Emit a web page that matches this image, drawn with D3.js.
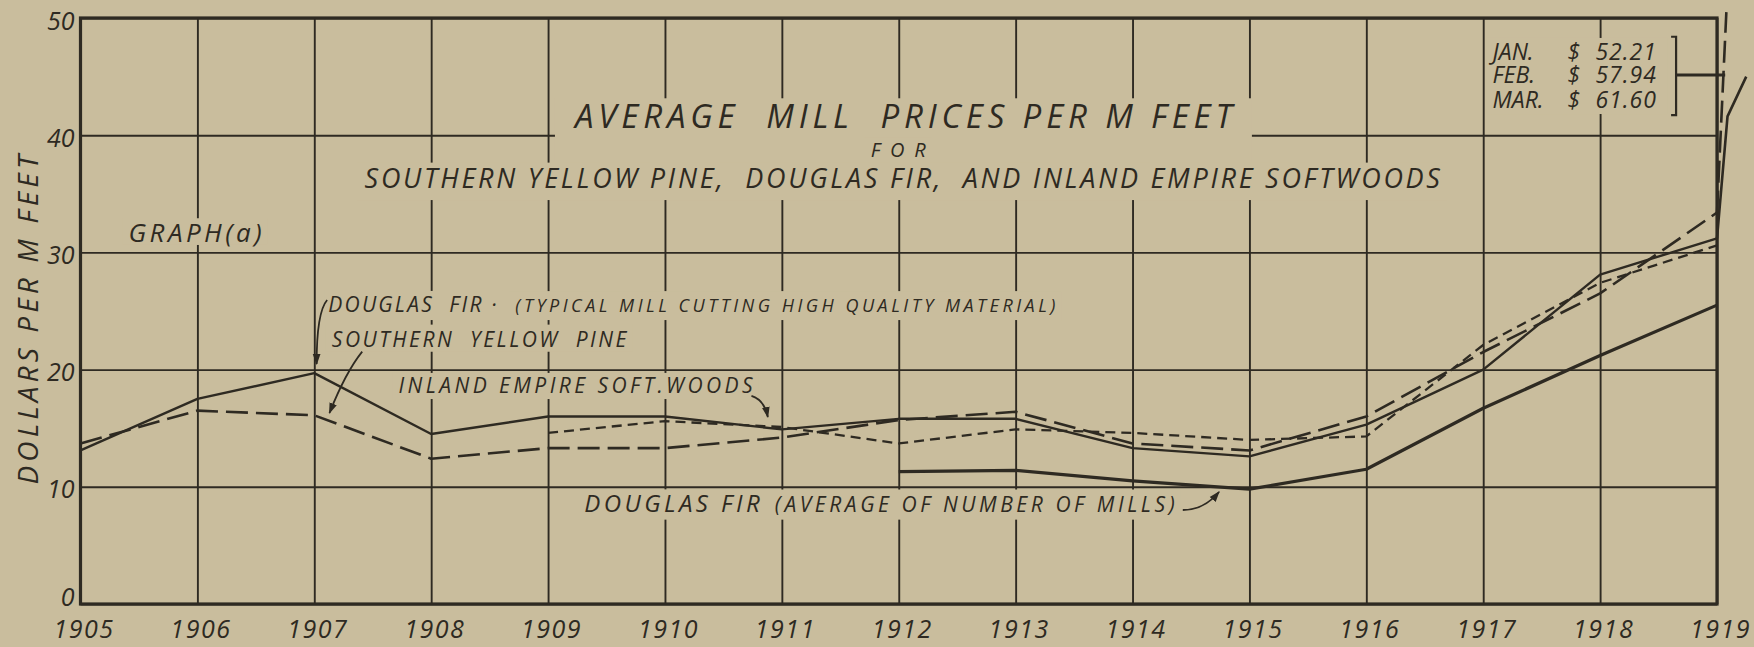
<!DOCTYPE html>
<html>
<head>
<meta charset="utf-8">
<script src="https://cdn.jsdelivr.net/npm/d3@7"></script>
<style>
  html, body { margin: 0; padding: 0; background: #c9bd9d; }
  svg { display: block; }
  text {
    font-family: 'Open Sans', 'Liberation Sans', 'DejaVu Sans', sans-serif;
    font-style: italic;
    font-weight: 400;
    fill: #2e2a22;
    white-space: pre;
  }
</style>
</head>
<body>
<div id="chart"></div>
<script>
// values, dollars per M feet
const years = [1905, 1906, 1907, 1908, 1909, 1910, 1911, 1912, 1913, 1914, 1915, 1916, 1917, 1918, 1919];
const yTicks = [0, 10, 20, 30, 40, 50];

const firTypical   = [13.1, 17.5, 19.7, 14.5, 16.0, 16.0, 14.9, 15.8, 15.8, 13.3, 12.6, 15.3, 20.0, 28.1, 31.2];
const yellowPine   = [13.7, 16.5, 16.1, 12.4, 13.3, 13.3, 14.2, 15.7, 16.4, 13.7, 13.1, 16.0, 21.5, 26.5, 33.4];
const inlandEmpire = [null, null, null, null, 14.6, 15.6, 15.1, 13.7, 14.9, 14.6, 14.0, 14.3, 22.1, 27.4, 30.6];
const firAverage   = [null, null, null, null, null, null, null, 11.3, 11.4, 10.5, 9.8, 11.5, 16.7, 21.2, 25.5];

// early 1919 run-off past the frame, [year, dollars]
const firTypicalJump = [[1919, 31.2], [1919.09, 41.6], [1919.25, 45.0]];
const yellowPineJump = [[1919, 33.4], [1919.08, 50.5]];

const months = ['JAN.', 'FEB.', 'MAR.'];
const monthPrices = ['52.21', '57.94', '61.60'];

const W = 1754, H = 647;
const INK = '#2e2a22', PAPER = '#c9bd9d';

const x = d3.scaleLinear().domain([1905, 1919]).range([80.5, 1717]);
const y = d3.scaleLinear().domain([0, 50]).range([604, 18]);

const svg = d3.select('#chart').append('svg')
    .attr('width', W)
    .attr('height', H);

svg.append('rect').attr('width', W).attr('height', H).attr('fill', PAPER);

const defs = svg.append('defs');
defs.append('marker')
    .attr('id', 'arrow')
    .attr('viewBox', '0 -5 10 10')
    .attr('refX', 9).attr('refY', 0)
    .attr('markerWidth', 11).attr('markerHeight', 11)
    .attr('markerUnits', 'userSpaceOnUse')
    .attr('orient', 'auto')
  .append('path')
    .attr('d', 'M0,-3.5L10,0L0,3.5Z')
    .attr('fill', INK);

// grid
const grid = svg.append('g');
grid.append('g')
    .attr('transform', `translate(0,${y(0)})`)
    .call(d3.axisBottom(x).tickValues(years).tickSize(-(y(0) - y(50))).tickFormat(''))
    .call(g => g.select('.domain').remove())
    .call(g => g.selectAll('line').attr('stroke', INK).attr('stroke-width', 1.9));
grid.append('g')
    .attr('transform', `translate(${x(1905)},0)`)
    .call(d3.axisLeft(y).tickValues(yTicks).tickSize(-(x(1919) - x(1905))).tickFormat(''))
    .call(g => g.select('.domain').remove())
    .call(g => g.selectAll('line').attr('stroke', INK).attr('stroke-width', 1.9));

grid.append('rect')
    .attr('x', x(1905)).attr('y', y(50))
    .attr('width', x(1919) - x(1905)).attr('height', y(0) - y(50))
    .attr('fill', 'none').attr('stroke', INK).attr('stroke-width', 3.2);

const bgLayer = svg.append('g');
const lineLayer = svg.append('g');
const textLayer = svg.append('g');

// tick labels
svg.append('g')
    .attr('transform', `translate(0,${y(0)})`)
    .call(d3.axisBottom(x).tickValues(years).tickFormat(d3.format('d')).tickSize(0))
    .call(g => g.select('.domain').remove())
    .call(g => g.selectAll('text')
        .attr('y', 34).attr('dy', null).attr('x', 3)
        .attr('font-size', 25).attr('letter-spacing', 1.5));

svg.append('g')
    .attr('transform', `translate(${x(1905)},0)`)
    .call(d3.axisLeft(y).tickValues(yTicks).tickSize(0).tickPadding(6))
    .call(g => g.select('.domain').remove())
    .call(g => g.selectAll('text')
        .attr('dy', null)
        .attr('y', d => d === 0 ? 1 : 11)
        .attr('font-size', 25));

// series
const line = d3.line()
    .defined(d => d[1] != null)
    .x(d => x(d[0]))
    .y(d => y(d[1]));

const series = [
    {values: firTypical, width: 2.4, dash: null},
    {values: yellowPine, width: 2.6, dash: '22 8'},
    {values: inlandEmpire, width: 2.3, dash: '10 6'},
    {values: firAverage, width: 3.2, dash: null}
];

series.forEach(s => {
    lineLayer.append('path')
        .datum(years.map((yr, i) => [yr, s.values[i]]))
        .attr('d', line)
        .attr('fill', 'none')
        .attr('stroke', INK)
        .attr('stroke-width', s.width)
        .attr('stroke-linejoin', 'round')
        .attr('stroke-dasharray', s.dash);
});

lineLayer.append('path').datum(firTypicalJump).attr('d', line)
    .attr('fill', 'none').attr('stroke', INK).attr('stroke-width', 2.6);
lineLayer.append('path').datum(yellowPineJump).attr('d', line)
    .attr('fill', 'none').attr('stroke', INK).attr('stroke-width', 2.6)
    .attr('stroke-dasharray', '22 8');

// labels, placed in chart units
const notes = [
    {text: 'AVERAGE  MILL  PRICES PER M FEET', from: 1909.23, to: 1914.85, at: 40.61, size: 33, pad: [6, 20, 36, 20]},
    {text: 'FOR', from: 1911.76, to: 1912.23, at: 38.14, size: 20},
    {text: 'SOUTHERN YELLOW PINE,  DOUGLAS FIR,  AND INLAND EMPIRE SOFTWOODS', from: 1907.43, to: 1916.63, at: 35.49, size: 27, pad: [6, 8, 12, 8]},
    {text: 'GRAPH(a)', from: 1905.41, to: 1906.55, at: 30.89, size: 26, pad: [5, 6, 3, 6]},
    {text: 'DOUGLAS  FIR ·', from: 1907.12, to: 1908.56, at: 24.91, size: 21, pad: [6, 6, 8, 4]},
    {text: '(TYPICAL MILL CUTTING HIGH QUALITY MATERIAL)', from: 1908.72, to: 1913.34, at: 24.91, size: 18, pad: [8, 6, 8, 6]},
    {text: 'SOUTHERN  YELLOW  PINE', from: 1907.15, to: 1909.67, at: 21.95, size: 21, pad: [7, 6, 5, 6]},
    {text: 'INLAND EMPIRE SOFT.WOODS', from: 1907.72, to: 1910.75, at: 18.0, size: 21, pad: [5, 6, 6, 6]},
    {text: 'DOUGLAS FIR', from: 1909.31, to: 1910.81, at: 7.88, size: 24, pad: [5, 6, 8, 6]},
    {text: '(AVERAGE OF NUMBER OF MILLS)', from: 1910.94, to: 1914.36, at: 7.88, size: 21, pad: [7, 6, 8, 6]}
];

notes.forEach(n => {
    const pad = n.pad || [5, 6, 5, 6];
    const top = y(n.at) - n.size * 0.72 - pad[0];
    bgLayer.append('rect')
        .attr('x', x(n.from) - pad[3])
        .attr('y', top)
        .attr('width', x(n.to) - x(n.from) + pad[1] + pad[3])
        .attr('height', y(n.at) + pad[2] - top)
        .attr('fill', PAPER);
    textLayer.append('text')
        .attr('x', x(n.from))
        .attr('y', y(n.at))
        .attr('font-size', n.size)
        .attr('textLength', x(n.to) - x(n.from))
        .attr('lengthAdjust', 'spacing')
        .text(n.text);
});

// y axis title
const yTitle = {from: 10.2, to: 38.3};
textLayer.append('text')
    .attr('transform', `translate(38,${y((yTitle.from + yTitle.to) / 2)}) rotate(-90)`)
    .attr('text-anchor', 'middle')
    .attr('font-size', 28)
    .attr('textLength', y(yTitle.from) - y(yTitle.to))
    .attr('lengthAdjust', 'spacing')
    .text('DOLLARS PER M FEET');

// monthly 1919 prices block
const monthRows = [46.42, 44.45, 42.32];
const monthCols = [1917.08, 1917.72, 1917.96];
bgLayer.append('rect')
    .attr('x', x(monthCols[0]) - 6)
    .attr('y', y(monthRows[0]) - 22)
    .attr('width', x(1918.58) - x(monthCols[0]) + 6)
    .attr('height', y(monthRows[2]) - y(monthRows[0]) + 28)
    .attr('fill', PAPER);
months.forEach((m, i) => {
    const row = textLayer.append('text')
        .attr('y', y(monthRows[i]))
        .attr('font-size', 23);
    row.append('tspan').attr('x', x(monthCols[0])).text(m);
    row.append('tspan').attr('x', x(monthCols[1])).text('$');
    row.append('tspan').attr('x', x(monthCols[2])).attr('letter-spacing', 1).text(monthPrices[i]);
});

// bracket pointing at the run-off lines
const bracket = {x: 1918.65, from: 41.72, to: 48.40, stem: 45.14, stemTo: 1919.07};
lineLayer.append('path')
    .attr('d', `M${x(bracket.x) - 5},${y(bracket.to)}H${x(bracket.x)}V${y(bracket.from)}H${x(bracket.x) - 5}`)
    .attr('fill', 'none').attr('stroke', INK).attr('stroke-width', 2.2);
lineLayer.append('line')
    .attr('x1', x(bracket.x)).attr('x2', x(bracket.stemTo))
    .attr('y1', y(bracket.stem)).attr('y2', y(bracket.stem))
    .attr('stroke', INK).attr('stroke-width', 3);

// leader arrows: start, control, end
const leaders = [
    [[1907.11, 25.94], [1907.02, 24.91], [1907.02, 20.48]],
    [[1907.41, 21.53], [1907.27, 19.80], [1907.13, 16.30]],
    [[1910.74, 17.75], [1910.85, 17.41], [1910.88, 15.96]],
    [[1914.43, 8.02], [1914.61, 8.02], [1914.74, 9.56]]
];

leaders.forEach(([a, c, b]) => {
    lineLayer.append('path')
        .attr('d', `M${x(a[0])},${y(a[1])}Q${x(c[0])},${y(c[1])} ${x(b[0])},${y(b[1])}`)
        .attr('fill', 'none')
        .attr('stroke', INK)
        .attr('stroke-width', 1.8)
        .attr('marker-end', 'url(#arrow)');
});
</script>
</body>
</html>
